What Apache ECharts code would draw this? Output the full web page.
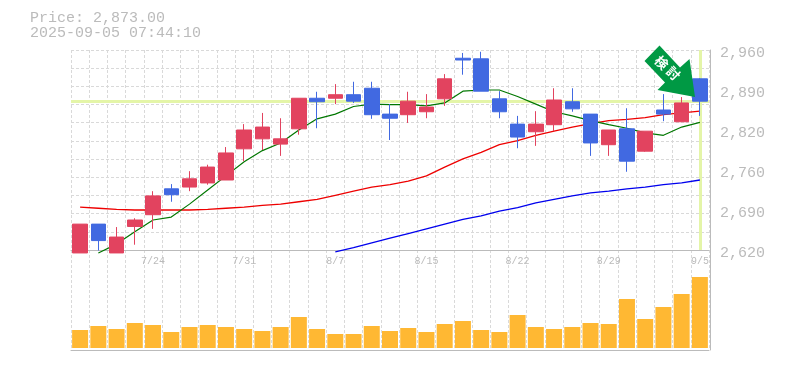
<!DOCTYPE html>
<html>
<head>
<meta charset="utf-8">
<style>
  html, body { margin: 0; padding: 0; background: #fff; }
  #chart { width: 785px; height: 370px; }
</style>
</head>
<body>
<div id="chart"></div>
<script src="https://cdn.jsdelivr.net/npm/echarts@6/dist/echarts.min.js"></script>
<script>
const dates = ['7/17', '7/18', '7/22', '7/23', '7/24', '7/25', '7/28', '7/29', '7/30', '7/31', '8/1', '8/4', '8/5', '8/6', '8/7', '8/8', '8/12', '8/13', '8/14', '8/15', '8/18', '8/19', '8/20', '8/21', '8/22', '8/25', '8/26', '8/27', '8/28', '8/29', '9/1', '9/2', '9/3', '9/4', '9/5']

// open, close, low, high
const candles = [
  [2615, 2664, 2615, 2664], [2664, 2636, 2619, 2664], [2615, 2642, 2615, 2659], [2660, 2671, 2629, 2674],
  [2680, 2712, 2656, 2720], [2724, 2714, 2702, 2732], [2727, 2741, 2720, 2754], [2734, 2761, 2731, 2765],
  [2739, 2785, 2739, 2795], [2792, 2824, 2771, 2834], [2809, 2829, 2790, 2853], [2800, 2809, 2780, 2844],
  [2826, 2878, 2816, 2878], [2878, 2872, 2827, 2889], [2878, 2884, 2868, 2902], [2884, 2873, 2870, 2906],
  [2895, 2850, 2843, 2906], [2851, 2844, 2807, 2868], [2850, 2873, 2836, 2889], [2855, 2863, 2844, 2885],
  [2877, 2911, 2865, 2919], [2946, 2943, 2918, 2955], [2945, 2890, 2890, 2957], [2877, 2855, 2844, 2890],
  [2834, 2812, 2793, 2848], [2821, 2834, 2797, 2856], [2833, 2875, 2822, 2895], [2872, 2860, 2855, 2895],
  [2851, 2802, 2780, 2851], [2799, 2824, 2780, 2824], [2826, 2771, 2753, 2861], [2788, 2822, 2787, 2822],
  [2858, 2851, 2839, 2885], [2838, 2870, 2838, 2880], [2911, 2873, 2848, 2912]
]

const maShort = [null, 2615, 2630, 2651, 2671, 2676, 2698, 2722, 2746, 2770, 2789, 2802, 2824, 2843, 2851, 2864, 2868, 2867, 2867, 2865, 2870, 2890, 2892, 2892, 2881, 2868, 2855, 2848, 2840, 2833, 2827, 2819, 2815, 2829, 2837]
const maMid = [2693, 2691, 2689, 2688, 2688, 2688, 2688, 2689, 2691, 2693, 2696, 2698, 2702, 2706, 2713, 2720, 2727, 2731, 2737, 2746, 2761, 2775, 2786, 2799, 2806, 2815, 2822, 2829, 2835, 2840, 2842, 2845, 2850, 2853, 2856]
const maLong = [null, null, null, null, null, null, null, null, null, null, null, null, null, null, 2617, 2624, 2632, 2640, 2648, 2656, 2664, 2672, 2678, 2686, 2692, 2700, 2706, 2712, 2717, 2720, 2724, 2727, 2731, 2734, 2739]

const volumes = [18, 22, 19, 25, 23, 16, 21, 23, 21, 19, 17, 21, 31, 19, 14, 14, 22, 17, 20, 16, 24, 27, 18, 16, 33, 21, 19, 21, 25, 24, 49, 29, 41, 54, 71]

const priceTicks = [2620, 2688, 2756, 2824, 2892, 2960]
const lastPrice = 2873
const lastDate = '9/5'
const titleLines = ['Price: 2,873.00', '2025-09-05 07:44:10']

const GREY = '#bbbbbb'
const GRID = '#d9d9d9'
const UP = '#e2435f'
const DOWN = '#4169e1'
const MONO = '"Liberation Mono", monospace'

const chart = echarts.init(document.getElementById('chart'), null, { renderer: 'canvas' })

const splitX = { show: true, interval: 0, lineStyle: { color: GRID, width: 1, type: [3, 2] } }

chart.setOption({
  animation: false,
  backgroundColor: '#fff',
  grid: [
    { left: 71, width: 638, top: 50, height: 200 },
    { left: 71, width: 638, top: 250, height: 100 },
  ],
  xAxis: [
    {
      type: 'category',
      gridIndex: 0,
      data: dates,
      axisLine: { show: true, onZero: false, lineStyle: { color: GREY } },
      axisTick: { show: false },
      axisLabel: {
        color: GREY,
        fontFamily: MONO,
        fontSize: 10,
        margin: 6,
        hideOverlap: false,
        interval: (i) => i % 5 === 4,
      },
      splitLine: splitX,
    },
    {
      type: 'category',
      gridIndex: 1,
      data: dates,
      axisLine: { show: true, onZero: false, lineStyle: { color: GREY } },
      axisTick: { show: false },
      axisLabel: { show: false },
      splitLine: splitX,
    },
  ],
  yAxis: [
    {
      type: 'value',
      gridIndex: 0,
      position: 'right',
      offset: 1,
      min: 2620,
      max: 2960,
      axisLine: { show: true, lineStyle: { color: GREY } },
      axisTick: { show: false },
      splitLine: { show: false },
      axisLabel: {
        customValues: priceTicks,
        color: GREY,
        fontFamily: MONO,
        fontSize: 15,
        margin: 10,
        // labels sit a little under their tick in the original
        verticalAlign: 'top',
        lineHeight: 7,
        formatter: (v) => (Math.round(v / 10) * 10).toLocaleString('en-US'),
      },
    },
    // only carries the horizontal dashed lines, they do not follow the price ticks
    {
      type: 'value',
      gridIndex: 0,
      min: 0,
      max: 11,
      interval: 1,
      axisLine: { show: false },
      axisTick: { show: false },
      axisLabel: { show: false },
      splitLine: { show: true, lineStyle: { color: GRID, width: 1, type: [3, 2] } },
    },
    {
      type: 'value',
      gridIndex: 1,
      position: 'right',
      offset: 1,
      min: -2,
      max: 98,
      axisLine: { show: true, lineStyle: { color: GREY } },
      axisTick: { show: false },
      axisLabel: { show: false },
      splitLine: { show: false },
    },
  ],
  series: [
    {
      type: 'line',
      data: [],
      xAxisIndex: 0,
      yAxisIndex: 0,
      z: 1,
      silent: true,
      markLine: {
        silent: true,
        z: 1,
        symbol: 'none',
        label: { show: false },
        animation: false,
        lineStyle: { color: '#e4f5a8', width: 3, type: 'solid' },
        data: [{ yAxis: lastPrice }, { xAxis: lastDate }],
      },
    },
    {
      type: 'line',
      data: maLong,
      symbol: 'none',
      clip: false,
      z: 2,
      lineStyle: { color: '#0000ee', width: 1.3 },
    },
    {
      type: 'line',
      data: maMid,
      symbol: 'none',
      clip: false,
      z: 2,
      lineStyle: { color: '#ee0000', width: 1.3 },
    },
    {
      type: 'line',
      data: maShort,
      symbol: 'none',
      clip: false,
      z: 2,
      lineStyle: { color: '#007700', width: 1.2 },
    },
    {
      type: 'candlestick',
      data: candles,
      barWidth: 15,
      clip: false,
      z: 3,
      itemStyle: { color: UP, borderColor: UP, color0: DOWN, borderColor0: DOWN, borderWidth: 1 },
    },
    {
      type: 'bar',
      data: volumes,
      xAxisIndex: 1,
      yAxisIndex: 2,
      barWidth: 16,
      itemStyle: { color: '#ffb833' },
    },
  ],
  graphic: [
    {
      type: 'text',
      left: 30,
      top: 11,
      style: { text: titleLines.join('\n'), fill: GREY, font: '15px ' + MONO, lineHeight: 15 },
    },
    {
      type: 'polygon',
      z: 50,
      shape: {
        points: [[659.5, 45.5], [644.5, 61], [665, 82.5], [657.5, 90], [695, 97], [689.5, 59], [680, 67.5]],
      },
      style: { fill: '#009944' },
    },
    {
      type: 'text',
      z: 51,
      x: 661.7,
      y: 62.7,
      rotation: -Math.PI / 4,
      style: { text: '検', fill: '#fff', font: 'bold 13px "Noto Sans CJK JP"', align: 'center', verticalAlign: 'middle' },
    },
    {
      type: 'text',
      z: 51,
      x: 673.3,
      y: 73.3,
      rotation: -Math.PI / 4,
      style: { text: '討', fill: '#fff', font: 'bold 13px "Noto Sans CJK JP"', align: 'center', verticalAlign: 'middle' },
    },
  ],
})
</script>
</body>
</html>
